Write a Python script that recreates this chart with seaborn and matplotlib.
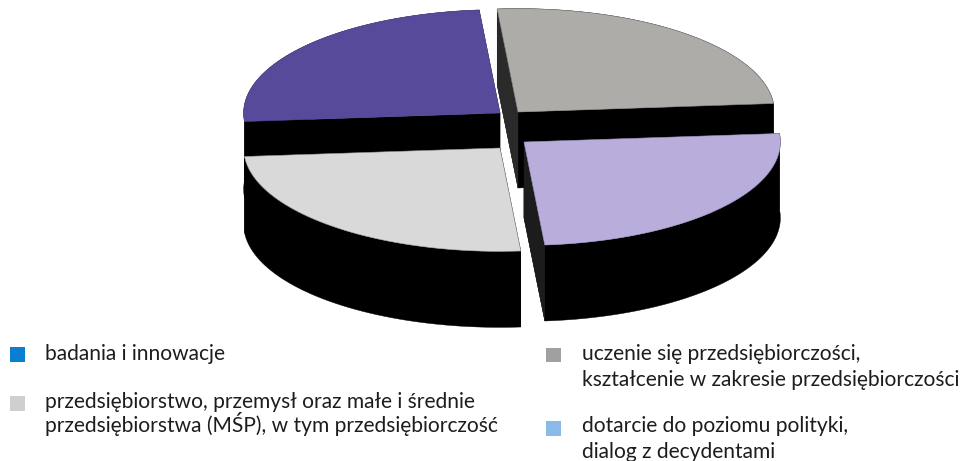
import numpy as np
import seaborn as sns
import matplotlib
matplotlib.use("Agg")
import matplotlib.pyplot as plt
from matplotlib.patches import Polygon, Rectangle

# ---- data ----
categories = [
    "uczenie się przedsiębiorczości,\nkształcenie w zakresie przedsiębiorczości",
    "badania i innowacje",
    "przedsiębiorstwo, przemysł oraz małe i średnie\nprzedsiębiorstwa (MŚP), w tym przedsiębiorczość",
    "dotarcie do poziomu polityki,\ndialog z decydentami",
]
shares = [25, 25, 25, 25]
top_colors = ["#AEACA9", "#574A9B", "#D9D9D9", "#B9AEDB"]
edge_colors = ["#8A8A8A", "#574A9B", "#9A9A9A", "#9C92BE"]
key_colors = ["#A0A0A0", "#0A7FD0", "#CFCFCF", "#8ABAE6"]

# ---- layout (pixels of the 965x461 canvas) ----
W, H = 965, 461
apexes = [(518, 112), (500, 113), (500, 148), (524, 142)]
e_x = np.array([255.5, -8.5])      # image of the pie's unit x axis
e_y = np.array([-20.8, -103.0])    # image of the pie's unit y axis
depth = 76
key_pos = [(546, 347.5), (10, 347), (10, 396), (546, 421)]
text_pos = [(582, 360), (45, 360), (45, 408), (582, 432)]
line_gap = [26, 24, 24, 26]
spoke_shade = {0: "#2A2A2A", 3: "#1C1C1C"}

sns.set_theme(style="white")
plt.rcParams["font.family"] = ["Lato", "DejaVu Sans"]

fig = plt.figure(figsize=(W / 100, H / 100), dpi=100, facecolor="white")
ax = fig.add_axes([0, 0, 1, 1])
ax.set_xlim(0, W)
ax.set_ylim(H, 0)
ax.axis("off")

fractions = np.array(shares, dtype=float) / sum(shares)
edges = np.concatenate([[0], np.cumsum(fractions)]) * 2 * np.pi
down = np.array([0, depth])


def wall(points, colour, z):
    pts = np.vstack([points, (points + down)[::-1]])
    ax.add_patch(Polygon(pts, closed=True, facecolor=colour, edgecolor=colour,
                         lw=0.3, zorder=z))


for i, frac in enumerate(fractions):
    theta = np.linspace(edges[i], edges[i + 1], 121)
    apex = np.array(apexes[i], dtype=float)
    arc = apex + np.outer(np.cos(theta), e_x) + np.outer(np.sin(theta), e_y)
    outline = np.vstack([apex, arc])
    wall(arc, "black", 2 + i)
    wall(np.vstack([apex, arc[0]]), "black", 2 + i)
    wall(np.vstack([apex, arc[-1]]), "black", 2 + i)
    if i in spoke_shade:
        end = arc[-1] if i == 0 else arc[0]
        wall(np.vstack([apex, end]), spoke_shade[i], 2 + i)
    ax.add_patch(Polygon(outline, closed=True, facecolor=top_colors[i],
                         edgecolor=edge_colors[i], lw=0.4, zorder=3 + i))

for cat, col, kp, tp, gap in zip(categories, key_colors, key_pos, text_pos, line_gap):
    ax.add_patch(Rectangle(kp, 15, 14.5, facecolor=col, edgecolor="none", zorder=10))
    for j, line in enumerate(cat.split("\n")):
        ax.text(tp[0], tp[1] + j * gap, line, fontsize=15.1, color="#1D1D1B",
                ha="left", va="baseline", zorder=10)

fig.savefig("out.png", dpi=100, facecolor="white")
